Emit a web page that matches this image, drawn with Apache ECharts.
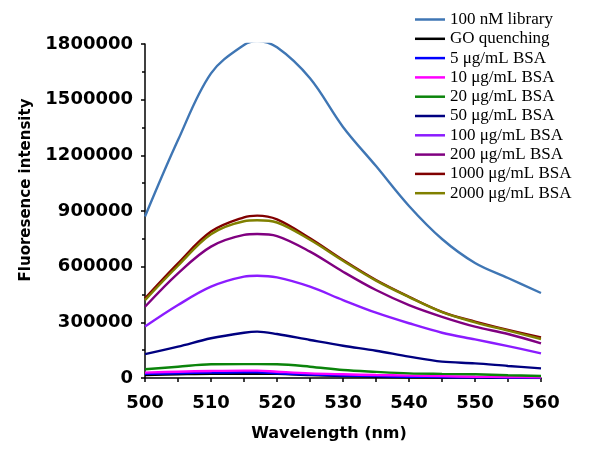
<!DOCTYPE html>
<html>
<head>
<meta charset="utf-8">
<script src="https://cdn.jsdelivr.net/npm/echarts@6/dist/echarts.min.js"></script>
<style>
    html, body { margin: 0; padding: 0; background: #fff; }
    #chart { width: 600px; height: 452px; }
</style>
</head>
<body>
<div id="chart"></div>
<script>
// wavelength (nm)
const wavelengths = [500, 505, 510, 515, 517, 520, 525, 530, 535, 540, 545, 550, 555, 560];

const seriesNames = [
    '100 nM library', 'GO quenching', '5 μg/mL BSA', '10 μg/mL BSA', '20 μg/mL BSA',
    '50 μg/mL BSA', '100 μg/mL BSA', '200 μg/mL BSA', '1000 μg/mL BSA', '2000 μg/mL BSA'
];
const seriesColors = ['#3f76b4', '#000000', '#0000ff', '#ff00ff', '#0b840b',
    '#000080', '#8b1cff', '#800080', '#800000', '#808000'];

const library   = [870000, 1282000, 1642000, 1795000, 1816000, 1782000, 1615000, 1353000, 1142000, 927000, 749000, 620000, 539000, 458000];
const goQuench  = [16000, 20000, 23000, 23000, 23000, 22000, 16000, 11000, 7000, 4000, 3000, 2000, 1000, 0];
const bsa5      = [22000, 26000, 29000, 31000, 31000, 25000, 18000, 13000, 10000, 7000, 5000, 4000, 3000, 2000];
const bsa10     = [29000, 34000, 38000, 40000, 40000, 34000, 25000, 20000, 16000, 13000, 10000, 7000, 5000, 4000];
const bsa20     = [47000, 61000, 74000, 75000, 75000, 74000, 61000, 43000, 33000, 25000, 22000, 20000, 15000, 11000];
const bsa50     = [129000, 169000, 214000, 244000, 250000, 237000, 205000, 174000, 147000, 115000, 88000, 79000, 65000, 52000];
const bsa100    = [277000, 393000, 492000, 546000, 551000, 542000, 492000, 420000, 352000, 295000, 244000, 208000, 172000, 133000];
const bsa200    = [384000, 564000, 708000, 771000, 776000, 765000, 681000, 573000, 474000, 393000, 330000, 277000, 237000, 187000];
const bsa1000   = [429000, 618000, 789000, 866000, 875000, 855000, 753000, 636000, 528000, 438000, 357000, 304000, 259000, 219000];
const bsa2000   = [420000, 605000, 775000, 845000, 850000, 838000, 745000, 632000, 525000, 436000, 355000, 300000, 255000, 210000];

const allValues = [library, goQuench, bsa5, bsa10, bsa20, bsa50, bsa100, bsa200, bsa1000, bsa2000];

const yTicks = { min: 0, max: 1800000, interval: 300000 };
const xTicks = { min: 500, max: 560, interval: 10 };

const ChartApp = {
    chart: null,

    init() {
        this.chart = echarts.init(document.getElementById('chart'));
        this.chart.setOption(this.buildOption());
    },

    buildOption() {
        const tickFont = { fontFamily: 'DejaVu Sans', fontWeight: 'bold', fontSize: 18, color: '#000' };
        const axisLine = { show: true, onZero: false, lineStyle: { color: '#000', width: 1.5 } };

        const series = allValues.map((vals, i) => ({
            name: seriesNames[i],
            type: 'line',
            data: wavelengths.map((w, j) => [w, vals[j]]),
            smooth: 0.35,
            symbol: 'none',
            lineStyle: { color: seriesColors[i], width: 2.4 },
            itemStyle: { color: seriesColors[i] }
        }));

        return {
            animation: false,
            grid: { left: 145, right: 59, top: 44, bottom: 74 },
            legend: {
                orient: 'vertical',
                left: 415,
                top: 11,
                padding: 0,
                icon: 'rect',
                itemWidth: 30,
                itemHeight: 2.5,
                itemGap: 2.3,
                itemTextGap: 3,
                textStyle: { fontFamily: 'Liberation Serif', fontSize: 17, color: '#000', lineHeight: 17 },
                data: seriesNames
            },
            xAxis: {
                type: 'value',
                min: xTicks.min, max: xTicks.max, interval: xTicks.interval,
                axisLine: axisLine,
                axisTick: { show: true, length: 4, lineStyle: { color: '#000', width: 1.5 } },
                minorTick: { show: true, splitNumber: 2, length: 4, lineStyle: { color: '#000', width: 1.5 } },
                axisLabel: Object.assign({ margin: 16 }, tickFont),
                splitLine: { show: false }
            },
            yAxis: {
                type: 'value',
                min: yTicks.min, max: yTicks.max, interval: yTicks.interval,
                axisLine: axisLine,
                axisTick: { show: true, length: 4, lineStyle: { color: '#000', width: 1.5 } },
                minorTick: { show: true, splitNumber: 2, length: 3, lineStyle: { color: '#000', width: 1.5 } },
                axisLabel: Object.assign({ margin: 12, formatter: v => String(v) }, tickFont),
                splitLine: { show: false }
            },
            graphic: [
                {
                    type: 'text',
                    x: 26, y: 190,
                    rotation: Math.PI / 2,
                    style: {
                        text: 'Fluoresence intensity',
                        font: 'bold 15px "DejaVu Sans"',
                        fill: '#000',
                        align: 'center',
                        verticalAlign: 'middle'
                    }
                },
                {
                    type: 'text',
                    x: 329, y: 434,
                    style: {
                        text: 'Wavelength (nm)',
                        font: 'bold 16px "DejaVu Sans"',
                        fill: '#000',
                        align: 'center',
                        verticalAlign: 'middle'
                    }
                }
            ],
            series: series
        };
    }
};

window.onload = () => ChartApp.init();
</script>
</body>
</html>
